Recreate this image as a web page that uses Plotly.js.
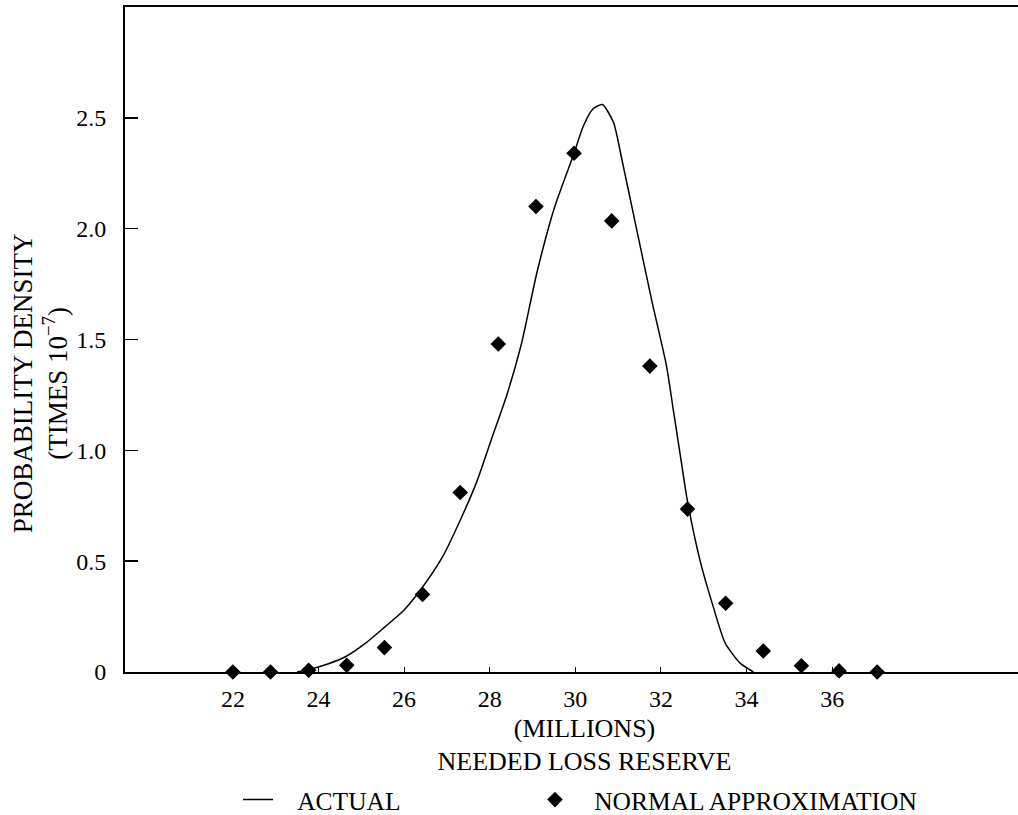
<!DOCTYPE html>
<html>
<head>
<meta charset="utf-8">
<script src="https://cdn.plot.ly/plotly-3.0.1.min.js"></script>
<style>html,body{margin:0;padding:0;background:#fff;overflow:hidden;}</style>
</head>
<body>
<div id="chart" style="width:1018px;height:815px;"></div>
<script>
// Actual density curve (needed loss reserve, millions)
const actualX = [23.5, 23.75, 24.2, 24.64, 25.1, 25.53, 26.0, 26.42, 26.9, 27.3, 27.7, 28.04, 28.4, 28.74, 29.1, 29.52, 29.97, 30.18, 30.41, 30.63, 30.89, 31.1, 31.39, 31.78, 32.13, 32.29, 32.45, 32.61, 32.91, 33.22, 33.5, 33.85, 34.16];
const actualY = [0, 0.01, 0.035, 0.07, 0.13, 0.2, 0.28, 0.38, 0.52, 0.68, 0.86, 1.05, 1.25, 1.48, 1.8, 2.1, 2.34, 2.46, 2.54, 2.56, 2.48, 2.3, 2.035, 1.68, 1.38, 1.18, 0.98, 0.78, 0.505, 0.295, 0.13, 0.04, 0];

// Normal approximation points
const normalX = [22.0, 22.88, 23.77, 24.66, 25.54, 26.43, 27.31, 28.2, 29.08, 29.97, 30.85, 31.74, 32.62, 33.51, 34.39, 35.28, 36.16, 37.05];
const normalY = [0, 0, 0.008, 0.03, 0.11, 0.35, 0.81, 1.48, 2.1, 2.34, 2.035, 1.38, 0.735, 0.31, 0.095, 0.028, 0.005, 0];

// Axis ticks
const xTickVals = [22, 24, 26, 28, 30, 32, 34, 36];
const xTickText = ['22', '24', '26', '28', '30', '32', '34', '36'];
const yTickVals = [0, 0.5, 1.0, 1.5, 2.0, 2.5];
const yTickText = ['0', '0.5', '1.0', '1.5', '2.0', '2.5'];

const FONT = 'Liberation Serif, Times New Roman, serif';
const nb = n => '\u00a0'.repeat(n);
const ZW = '\u200b';

const traces = [
  {
    x: actualX, y: actualY, type: 'scatter', mode: 'lines',
    name: ZW + nb(3) + 'ACTUAL',
    legendwidth: 252,
    line: {color: '#000', width: 1.5, shape: 'spline', smoothing: 0.6},
    cliponaxis: false
  },
  {
    x: normalX, y: normalY, type: 'scatter', mode: 'markers',
    name: ZW + nb(3) + 'NORMAL APPROXIMATION',
    legendwidth: 360,
    marker: {symbol: 'diamond', size: 12, color: '#000'},
    cliponaxis: false
  }
];

const layout = {
  width: 1018, height: 815,
  margin: {l: 125, r: 0, t: 7, b: 143},
  paper_bgcolor: '#fff', plot_bgcolor: '#fff',
  font: {family: FONT, color: '#000', size: 24},
  showlegend: true,
  legend: {
    orientation: 'h', xref: 'paper', x: (238 - 125) / 893, xanchor: 'left',
    yref: 'container', y: (815 - 800) / 815, yanchor: 'middle',
    font: {family: FONT, size: 25.5, color: '#000'},
    bgcolor: 'rgba(0,0,0,0)', borderwidth: 0
  },
  xaxis: {
    range: [19.48, 40.34], tickmode: 'array', tickvals: xTickVals, ticktext: xTickText,
    showline: true, linecolor: '#000', linewidth: 2, mirror: true,
    ticks: 'inside', ticklen: 5, tickwidth: 1, tickcolor: '#000',
    showgrid: false, zeroline: false,
    tickfont: {family: FONT, size: 24, color: '#000'},
    ticklabelstandoff: 4,
    automargin: false,
    title: {text: ZW + nb(4) + '(MILLIONS)<br>' + nb(4) + 'NEEDED LOSS RESERVE', font: {family: FONT, size: 26, color: '#000'}, standoff: 20}
  },
  yaxis: {
    range: [0, 3.0], tickmode: 'array', tickvals: yTickVals, ticktext: yTickText,
    showline: true, linecolor: '#000', linewidth: 2, mirror: false,
    ticks: 'inside', ticklen: 13, tickwidth: 1.5, tickcolor: '#000',
    showgrid: false, zeroline: false,
    tickfont: {family: FONT, size: 24, color: '#000'},
    ticklabelstandoff: 12,
    automargin: false,
    title: {text: 'PROBABILITY DENSITY' + nb(13) + '<br>(TIMES 10<sup>\u22127</sup>)' + nb(13) + ZW, font: {family: FONT, size: 27, color: '#000'}, standoff: 1}
  }
};

Plotly.newPlot('chart', traces, layout, {displayModeBar: false, staticPlot: true});
</script>
</body>
</html>
